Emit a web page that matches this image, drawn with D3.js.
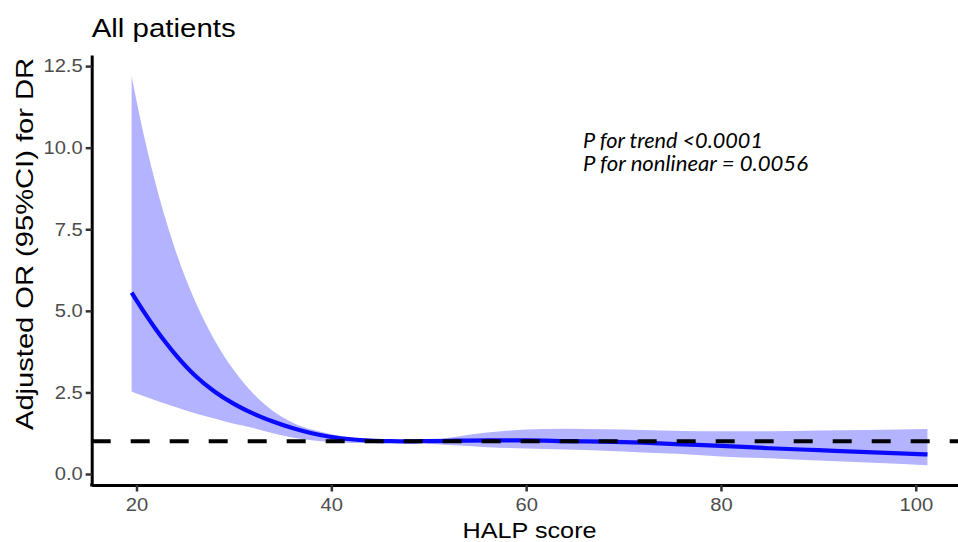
<!DOCTYPE html>
<html>
<head>
<meta charset="utf-8">
<script src="https://cdn.jsdelivr.net/npm/d3@7"></script>
<style>
  html, body { margin: 0; padding: 0; background: #ffffff; }
  svg { display: block; }
</style>
</head>
<body>
<svg id="chart" width="958" height="542"></svg>
<script>
// ---- data ----
const halp = [19.5, 20, 21, 22, 23, 24, 26, 28, 30, 32, 34, 36, 38, 40, 42, 44, 46, 48, 50, 53, 56, 60, 64, 68, 72, 76, 80, 85, 90, 95, 101.2];
const orEst = [5.56, 5.32, 4.86, 4.43, 4.03, 3.66, 3.02, 2.53, 2.15, 1.85, 1.61, 1.41, 1.25, 1.135, 1.065, 1.025, 1.007, 1.00, 1.01, 1.02, 1.03, 1.03, 1.01, 0.99, 0.96, 0.91, 0.86, 0.79, 0.73, 0.67, 0.60];
const orUpper = [12.2, 11.44, 10.06, 8.86, 7.79, 6.85, 5.31, 4.11, 3.18, 2.46, 1.93, 1.58, 1.36, 1.215, 1.116, 1.057, 1.012, 1.00, 1.03, 1.15, 1.27, 1.36, 1.39, 1.37, 1.35, 1.32, 1.31, 1.31, 1.33, 1.35, 1.38];
const orLower = [2.53, 2.47, 2.36, 2.25, 2.15, 2.05, 1.86, 1.70, 1.54, 1.41, 1.25, 1.12, 1.035, 0.98, 0.95, 0.945, 0.966, 1.00, 0.93, 0.87, 0.82, 0.78, 0.75, 0.71, 0.66, 0.61, 0.54, 0.48, 0.41, 0.35, 0.27];
const refLine = 1;
const xTicks = [20, 40, 60, 80, 100];
const yTicks = [0, 2.5, 5, 7.5, 10, 12.5];
const titleText = "All patients";
const xTitle = "HALP score";
const yTitle = "Adjusted OR (95%CI) for DR";
const annotLines = ["P for trend <0.0001", "P for nonlinear = 0.0056"];

// ---- layout ----
const svg = d3.select("#chart");
const panel = { left: 91.7, right: 967.4, top: 55, bottom: 485 };

const x = d3.scaleLinear().domain([15.4, 105.3]).range([panel.left, panel.right]);
const y = d3.scaleLinear().domain([-0.337, 12.84]).range([panel.bottom, panel.top]);

const rows = halp.map((h, i) => ({ h, est: orEst[i], lo: orLower[i], hi: orUpper[i] }));
const curve = d3.curveMonotoneX;

// ribbon
svg.append("path")
  .datum(rows)
  .attr("fill", "#b3b3ff")
  .attr("stroke", "none")
  .attr("d", d3.area().x(d => x(d.h)).y0(d => y(d.lo)).y1(d => y(d.hi)).curve(curve));

// estimate line
svg.append("path")
  .datum(rows)
  .attr("fill", "none")
  .attr("stroke", "#0a0aff")
  .attr("stroke-width", 4.2)
  .attr("d", d3.line().x(d => x(d.h)).y(d => y(d.est)).curve(curve));

// reference line
svg.append("line")
  .attr("x1", panel.left).attr("x2", panel.right)
  .attr("y1", y(refLine)).attr("y2", y(refLine))
  .attr("stroke", "#000")
  .attr("stroke-width", 4)
  .attr("stroke-dasharray", "19,20");

// axes
const fontAxis = "'Liberation Sans', Arial, Helvetica, sans-serif";
const yAxis = svg.append("g")
  .attr("transform", `translate(${panel.left},0)`)
  .call(d3.axisLeft(y).tickValues(yTicks).tickFormat(d3.format(".1f")).tickSize(6).tickSizeOuter(0).tickPadding(3));
const xAxis = svg.append("g")
  .attr("transform", `translate(0,${panel.bottom})`)
  .call(d3.axisBottom(x).tickValues(xTicks).tickFormat(d3.format("d")).tickSize(6.5).tickSizeOuter(0).tickPadding(7));

[yAxis, xAxis].forEach(g => {
  g.select(".domain").attr("stroke", "#000").attr("stroke-width", 3);
  g.selectAll(".tick line").attr("stroke", "#333").attr("stroke-width", 2.5);
  g.selectAll(".tick text")
    .attr("fill", "#4d4d4d")
    .style("font-family", fontAxis)
    .style("font-size", "18px")
    .each(function () {
      const len = this.getComputedTextLength();
      d3.select(this).attr("textLength", len * 1.12).attr("lengthAdjust", "spacingAndGlyphs");
    });
});
// square corner
svg.append("rect")
  .attr("x", panel.left - 1.5).attr("y", panel.bottom - 1.5)
  .attr("width", 3).attr("height", 3).attr("fill", "#000");

// title
svg.append("text")
  .attr("x", 91.7).attr("y", 36.5)
  .attr("textLength", 144).attr("lengthAdjust", "spacingAndGlyphs")
  .style("font-family", fontAxis).style("font-size", "25.5px").attr("fill", "#000")
  .text(titleText);

// x title
svg.append("text")
  .attr("x", (panel.left + panel.right) / 2).attr("y", 538)
  .attr("text-anchor", "middle")
  .attr("textLength", 134).attr("lengthAdjust", "spacingAndGlyphs")
  .style("font-family", fontAxis).style("font-size", "21.5px").attr("fill", "#000")
  .text(xTitle);

// y title
svg.append("text")
  .attr("transform", `translate(33,244) rotate(-90)`)
  .attr("text-anchor", "middle")
  .attr("textLength", 372).attr("lengthAdjust", "spacingAndGlyphs")
  .style("font-family", fontAxis).style("font-size", "24px").attr("fill", "#000")
  .text(yTitle);

// annotation
const annot = svg.append("g").style("font-family", "Lato, 'Open Sans', sans-serif")
  .style("font-style", "italic").style("font-size", "20.5px").attr("fill", "#000");
const annotLen = [180, 225];
annotLines.forEach((t, i) => {
  annot.append("text")
    .attr("x", 583).attr("y", 148 + i * 22.7)
    .attr("textLength", annotLen[i]).attr("lengthAdjust", "spacingAndGlyphs")
    .text(t);
});
</script>
</body>
</html>
